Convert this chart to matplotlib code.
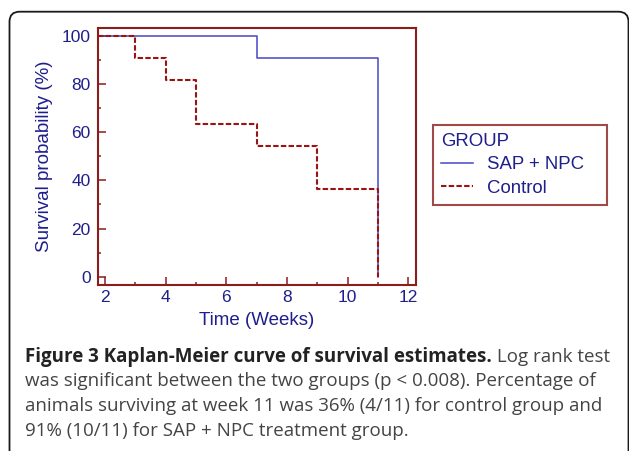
import matplotlib
matplotlib.use("Agg")
import matplotlib.pyplot as plt
from matplotlib.patches import FancyBboxPatch
from matplotlib.ticker import MultipleLocator

# ---- data ----
sap_time = [0, 7, 11]
sap_surv = [100, 90.9, 0]
ctl_time = [0, 3, 4, 5, 7, 9, 11]
ctl_surv = [100, 90.9, 81.8, 63.6, 54.5, 36.4, 0]
series_labels = ["SAP + NPC", "Control"]
x_ticks = [2, 4, 6, 8, 10, 12]
y_ticks = [0, 20, 40, 60, 80, 100]

caption_bold = "Figure 3 Kaplan-Meier curve of survival estimates."
caption_lines = [
    " Log rank test",
    "was significant between the two groups (p < 0.008). Percentage of",
    "animals surviving at week 11 was 36% (4/11) for control group and",
    "91% (10/11) for SAP + NPC treatment group.",
]

W, H = 629, 451
FRAME = "#8b1d1d"
NAVY = "#1e1e8c"
BLUE = "#4646c8"
RED = "#9a1414"

plt.rcParams["font.family"] = ["Liberation Sans", "DejaVu Sans"]

fig = plt.figure(figsize=(W / 100, H / 100), dpi=100)

def fx(px):
    return px / W

def fy(py):
    return 1 - py / H

# outer rounded box
box = FancyBboxPatch((fx(9.5), fy(470)), fx(628.5) - fx(9.5), fy(11.7) - fy(470),
                     boxstyle="round,pad=0,rounding_size=0.016",
                     transform=fig.transFigure, fill=False, edgecolor="#1a1a1a",
                     linewidth=1.3, clip_on=False, mutation_aspect=W / H)
fig.patches.append(box)

ax = fig.add_axes([fx(97.7), fy(284.5), fx(415.7) - fx(97.7), fy(28.3) - fy(284.5)])

l1, = ax.step(sap_time, sap_surv, where="post", color=BLUE, lw=1.1, zorder=2,
              label=series_labels[0])
l2, = ax.step(ctl_time, ctl_surv, where="post", color=RED, lw=1.5, zorder=3,
              linestyle=(0, (2.6, 1.1)), label=series_labels[1])

ax.set_xlim(1.76, 12.24)
ax.set_ylim(-3.25, 103.2)
ax.set_xticks(x_ticks)
ax.set_yticks(y_ticks)
ax.xaxis.set_minor_locator(MultipleLocator(1))
ax.yaxis.set_minor_locator(MultipleLocator(10))

for s in ax.spines.values():
    s.set_color(FRAME)
    s.set_linewidth(1.5)
ax.tick_params(which="both", direction="in", color=FRAME, width=1.1,
               labelcolor=NAVY, labelsize=12.5)
ax.tick_params(which="major", length=5.5, pad=4)
ax.tick_params(which="minor", length=2.5)
ax.tick_params(axis="y", pad=5)

ax.set_xlabel("Time (Weeks)", color=NAVY, fontsize=13.5, labelpad=5)
ax.set_ylabel("Survival probability (%)", color=NAVY, fontsize=13.5, labelpad=6.5)

leg = ax.legend(handles=[l1, l2], title="GROUP", loc="upper left",
                bbox_to_anchor=(fx(433.3), fy(125), fx(606.7) - fx(433.3), 0),
                bbox_transform=fig.transFigure, mode="expand",
                borderaxespad=0, frameon=True, fancybox=False, fontsize=13.4,
                title_fontsize=13.4, handlelength=1.7, handletextpad=0.72,
                labelspacing=0.33, borderpad=0.44, labelcolor=NAVY)
leg.get_title().set_color(NAVY)
leg._legend_box.align = "left"
fr = leg.get_frame()
fr.set_edgecolor(FRAME)
fr.set_linewidth(1.5)
fr.set_boxstyle("square", pad=0)

# caption
cap_font = ["Open Sans", "DejaVu Sans"]
cap_size = 13.5
cap_color = "#444444"
x0 = fx(25)
base0 = 362
step = 24.5
t1 = fig.text(x0, fy(base0), caption_bold, family=cap_font, fontweight="bold",
              fontsize=cap_size, color="#222222", va="baseline", ha="left")
fig.canvas.draw()
r = fig.canvas.get_renderer()
bb = t1.get_window_extent(r)
fig.text(bb.x1 / W, fy(base0), caption_lines[0], family=cap_font, fontsize=cap_size,
         color=cap_color, va="baseline", ha="left")
for i, line in enumerate(caption_lines[1:]):
    fig.text(x0, fy(base0 + step * (i + 1)), line, family=cap_font, fontsize=cap_size,
             color=cap_color, va="baseline", ha="left")

fig.savefig("out.png", dpi=100)
